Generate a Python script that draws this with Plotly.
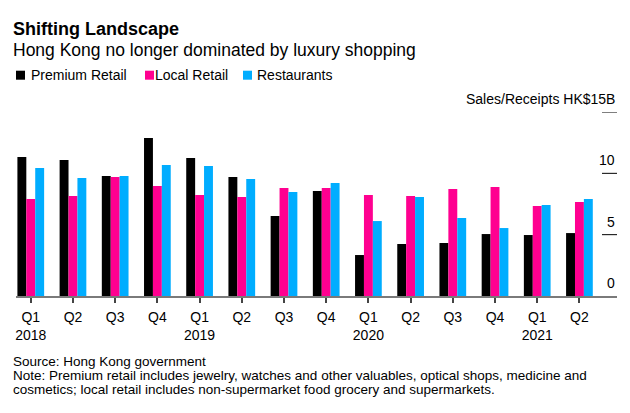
import plotly.graph_objects as go

quarters = ["Q1 2018", "Q2 2018", "Q3 2018", "Q4 2018",
            "Q1 2019", "Q2 2019", "Q3 2019", "Q4 2019",
            "Q1 2020", "Q2 2020", "Q3 2020", "Q4 2020",
            "Q1 2021", "Q2 2021"]
tick_labels = ["Q1<br>2018", "Q2", "Q3", "Q4",
               "Q1<br>2019", "Q2", "Q3", "Q4",
               "Q1<br>2020", "Q2", "Q3", "Q4",
               "Q1<br>2021", "Q2"]
premium_retail = [11.33, 11.08, 9.78, 12.88, 11.25, 9.70, 6.52, 8.56, 3.34, 4.24, 4.32, 5.05, 4.97, 5.13]
local_retail = [7.90, 8.15, 9.70, 8.96, 8.23, 8.07, 8.80, 8.80, 8.23, 8.15, 8.72, 8.88, 7.33, 7.66]
restaurants = [10.43, 9.62, 9.78, 10.68, 10.60, 9.54, 8.48, 9.21, 6.11, 8.07, 6.36, 5.54, 7.42, 7.90]
series_names = ["Premium Retail", "Local Retail", "Restaurants"]
y_ticks = [0, 5, 10, 15]
y_tick_text = ["0", "5", "10", "Sales/Receipts HK$15B"]

FONT = "Liberation Sans, Arial, sans-serif"
COLORS = ["#000000", "#ff0090", "#00adff"]

fig = go.Figure()
for name, vals, col in zip(series_names, [premium_retail, local_retail, restaurants], COLORS):
    fig.add_trace(go.Bar(x=quarters, y=vals, name=name, marker_color=col,
                         marker_line_width=0, showlegend=False))

# figure is placed at an 8px page offset; work in screen pixels
OFF = 8
W, H = 630 - OFF, 413 - OFF
L, R, T, B = 8, 13, 104, 117
PW, PH = W - L - R, H - T - B


def px(sx):
    return (sx - OFF - L) / PW


def py(sy):
    return (H - B - (sy - OFF)) / PH


annotations = []
shapes = []
for v, t in zip(y_ticks, y_tick_text):
    annotations.append(dict(x=1, xref="paper", y=v, yref="y", text=t, showarrow=False,
                            xanchor="right", yanchor="bottom", yshift=3,
                            font=dict(family=FONT, size=14, color="#000")))
    if v > 0:
        shapes.append(dict(type="line", xref="paper", yref="y", x0=px(602), x1=1, y0=v, y1=v,
                           line=dict(color="#000", width=1)))


def txt(sx, sy, text, size):
    return dict(x=px(sx - 3), xref="paper", y=py(sy), yref="paper", text=text, showarrow=False,
                xanchor="left", yanchor="middle", font=dict(family=FONT, size=size, color="#000"))


annotations += [
    txt(14, 28.5, "<b>Shifting Landscape</b>", 18),
    txt(14, 50, "Hong Kong no longer dominated by luxury shopping", 17.5),
    txt(14, 361, "Source: Hong Kong government", 13.5),
    txt(14, 375, "Note: Premium retail includes jewelry, watches and other valuables, optical shops, medicine and", 13.5),
    txt(14, 389, "cosmetics; local retail includes non-supermarket food grocery and supermarkets.", 13.5),
]

# legend (swatches + labels)
legend_sq_x = [16, 145, 243]
legend_txt_x = [32, 156, 258]
for name, col, sqx, tx in zip(series_names, COLORS, legend_sq_x, legend_txt_x):
    shapes.append(dict(type="rect", xref="paper", yref="paper", x0=px(sqx), x1=px(sqx + 9),
                       y0=py(79.7), y1=py(70.7), fillcolor=col, line_width=0))
    annotations.append(txt(tx, 75, name, 14))

fig.update_layout(
    width=W, height=H,
    margin=dict(l=L, r=R, t=T, b=B),
    paper_bgcolor="white", plot_bgcolor="white",
    barmode="group", bargap=0.367, bargroupgap=0,
    font=dict(family=FONT, size=14, color="#000"),
    showlegend=False,
    xaxis=dict(type="category", range=[-0.35, 13.89], tickmode="array", tickvals=quarters,
               ticktext=tick_labels, showline=True, linecolor="#7a7a7a", linewidth=2,
               ticks="outside", ticklen=5, tickcolor="#444", tickwidth=1.5, ticklabelstandoff=2,
               tickfont=dict(family=FONT, size=14, color="#000"), showgrid=False, zeroline=False),
    yaxis=dict(range=[0, 15], side="right", showticklabels=False, ticks="",
               showgrid=False, zeroline=False, showline=False, fixedrange=True),
    annotations=annotations,
    shapes=shapes,
)

fig.write_html("out.html")
